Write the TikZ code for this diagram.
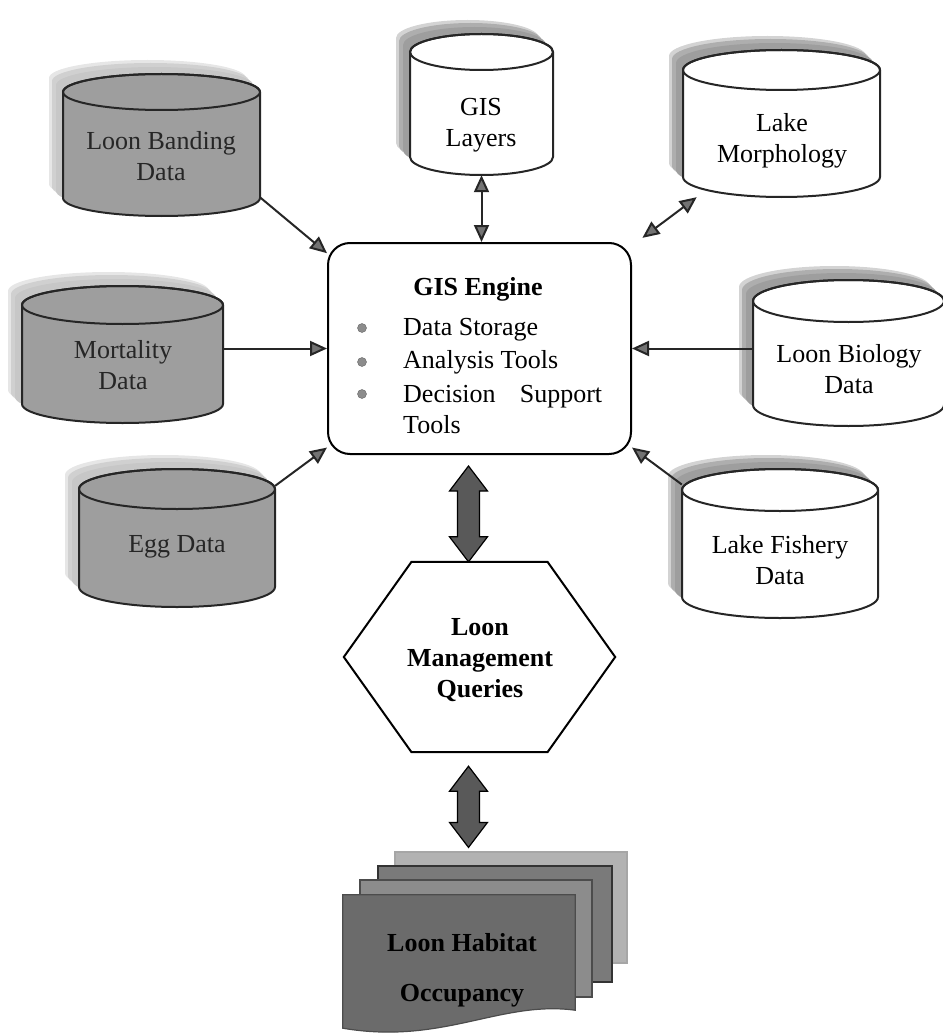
\documentclass[tikz,border=0pt]{standalone}
\usepackage{fontspec}
\setmainfont{Liberation Serif}
\usetikzlibrary{arrows.meta,calc}
\newcommand\dbcyl[8]{%
  \pgfmathsetmacro\cyX{(#2+#3)/2}%
  \pgfmathsetmacro\cyRx{(#3-#2)/2}%
  \pgfmathsetmacro\cyT{-#4}%
  \pgfmathsetmacro\cyB{-#5}%
  \pgfmathsetmacro\cyH{#5-#4+2*#6}%
  \pgfmathsetmacro\cyW{#3-#2}%
  \pgfmathsetmacro\cyM{-(#4+#5)/2}%
  \def\cypath{(#2,\cyT) -- (#2,\cyB) arc[start angle=180,end angle=360,x radius=\cyRx,y radius=#6] -- (#3,\cyT) arc[start angle=0,end angle=180,x radius=\cyRx,y radius=#6] -- cycle}%
  \fill[#8,opacity=0.45,shift={(-14,14)}] \cypath;
  \fill[#8,opacity=0.7,shift={(-11,11)}] \cypath;
  \fill[#8,shift={(-7,7)}] \cypath;
  \draw[cylline,fill=#7] \cypath;
  \draw[cylline] (\cyX,\cyT) ellipse[x radius=\cyRx,y radius=#6];
  \node[draw=none,inner sep=0pt,minimum width=\cyW,minimum height=\cyH] (#1) at (\cyX,\cyM) {};
}
\newcommand\bigdarrow[2]{%
  \draw[bigarr] (#1) -- ++(19,-25) -- ++(-8,0) -- ($(#2)+(11,25)$) -- ++(8,0) -- (#2)
    -- ++(-19,25) -- ++(8,0) -- ($(#1)+(-11,-25)$) -- ++(-8,0) -- cycle;
}
\begin{document}
\begin{tikzpicture}[x=1pt,y=1pt,
  cylline/.style={line width=2pt,draw=black!85},
  lbl/.style={font=\fontsize{26}{31}\selectfont,align=center,inner sep=0pt,text=black},
  blbl/.style={lbl,font=\fontsize{26}{31}\selectfont\bfseries},
  arr/.style={line width=2pt,draw=black!85,-{Triangle[length=17pt,width=15pt,fill=black!55]}},
  dblarr/.style={line width=2pt,draw=black!85,{Triangle[length=17pt,width=15pt,fill=black!55]}-{Triangle[length=17pt,width=15pt,fill=black!55]}},
  bigarr/.style={draw=black,line width=1.2pt,fill=black!65},
  docline/.style={draw=black!70,line width=1.2pt},
  bul/.style={fill=black!45,draw=black!60}
]
\useasboundingbox (0,0) rectangle (942,-1035);

% grey cylinders (left)
\dbcyl{banding}{63}{260}{92}{198}{18}{black!38}{black!22}
\node[lbl,text=black!85] (bandingtxt) at (161,-159.3) {\strut Loon Banding\\\strut Data};
\dbcyl{mort}{22}{223}{305}{404}{19}{black!38}{black!22}
\node[lbl,text=black!85] (morttxt) at (123,-367.3) {\strut Mortality\\\strut Data};
\dbcyl{egg}{79}{275}{489}{587}{20}{black!38}{black!22}
\node[lbl,text=black!85] (eggtxt) at (177,-545.8) {\strut Egg Data};

% white cylinders
\dbcyl{gis}{410}{553}{52}{157}{18}{white}{black!38}
\node[lbl] (gistxt) at (481,-125) {\strut GIS\\\strut Layers};
\dbcyl{morph}{683}{880}{70}{177}{20}{white}{black!38}
\node[lbl] (morphtxt) at (782,-141.3) {\strut Lake\\\strut Morphology};
\dbcyl{bio}{753}{944}{301}{405}{21}{white}{black!38}
\node[lbl] (biotxt) at (849,-371.3) {\strut Loon Biology\\\strut Data};
\dbcyl{fish}{682}{878}{490}{597}{21}{white}{black!38}
\node[lbl] (fishtxt) at (780,-562.3) {\strut Lake Fishery\\\strut Data};

% GIS engine
\node[draw=black,line width=2pt,rounded corners=22pt,minimum width=303,minimum height=211,fill=white,inner sep=0pt] (engine) at (479.5,-348.5) {};
\node[blbl,anchor=base] (engtitle) at (478,-295) {GIS Engine};
\fill[bul] (362,-328) circle (4.5);
\fill[bul] (362,-362) circle (4.5);
\fill[bul] (362,-394) circle (4.5);
\node[lbl,anchor=base west] (eng1) at (403,-335) {Data Storage};
\node[lbl,anchor=base west] (eng2) at (403,-368) {Analysis Tools};
\node[lbl,anchor=base west] (eng3) at (403,-402) {\hbox to 199pt{Decision\hfill Support}};
\node[lbl,anchor=base west] (eng4) at (403,-433) {Tools};

% connectors
\draw[arr] (banding.-28.3) -- (engine.148.5);
\draw[arr] (mort.east |- engine.west) -- (engine.west);
\draw[arr] (egg.28) -- (engine.213.3);
\draw[dblarr] (gis.south) -- (gis.south |- engine.north);
\draw[dblarr,shorten <=13pt] (engine.34.5) -- (morph.221);
\draw[arr] (bio.west |- engine.east) -- (engine.east);
\draw[arr] (fish.149) -- (engine.-33);

% hexagon
\node[draw=none,inner sep=0pt,minimum width=271,minimum height=190] (hex) at (479.5,-657) {};
\draw[line width=2pt,draw=black,fill=white] ($(hex.north)+(-68,0)$) -- ($(hex.north)+(68,0)$) -- (hex.east)
  -- ($(hex.south)+(68,0)$) -- ($(hex.south)+(-68,0)$) -- (hex.west) -- cycle;
\node[blbl] (hextxt) at (480,-660) {\strut Loon\\\strut Management\\\strut Queries};

% documents
\node[docline,draw=black!35,fill=black!30,minimum width=232,minimum height=111,inner sep=0pt] (doc1) at (511,-907.5) {};
\node[docline,draw=black!80,fill=black!52,minimum width=234,minimum height=116,inner sep=0pt] (doc2) at (495,-924) {};
\node[docline,draw=black!70,fill=black!45,minimum width=232,minimum height=117,inner sep=0pt] (doc3) at (476,-938.5) {};
\node[draw=none,minimum width=232,minimum height=135,inner sep=0pt] (docf) at (459,-962.5) {};
\draw[docline,fill=black!58] (docf.north west) -- (docf.north east) -- ($(docf.south east)+(0,20)$)
  .. controls ($(docf.south east)+(-75,30)$) and ($(docf.south west)+(100,-15)$) .. ($(docf.south west)+(0,2)$) -- cycle;
\node[lbl,font=\fontsize{26}{50}\selectfont\bfseries] (doctxt) at (462,-966) {\strut Loon Habitat\\\strut Occupancy};

% thick double arrows
\coordinate (a1t) at ($(hex.north |- engine.south)+(-11,-11)$);
\coordinate (a1b) at ($(hex.north)+(-11,0)$);
\coordinate (a2t) at ($(hex.south)+(-11,-14)$);
\coordinate (a2b) at ($(hex.south |- doc1.north)+(-11,4)$);
\bigdarrow{a1t}{a1b}
\bigdarrow{a2t}{a2b}
\end{tikzpicture}
\end{document}
